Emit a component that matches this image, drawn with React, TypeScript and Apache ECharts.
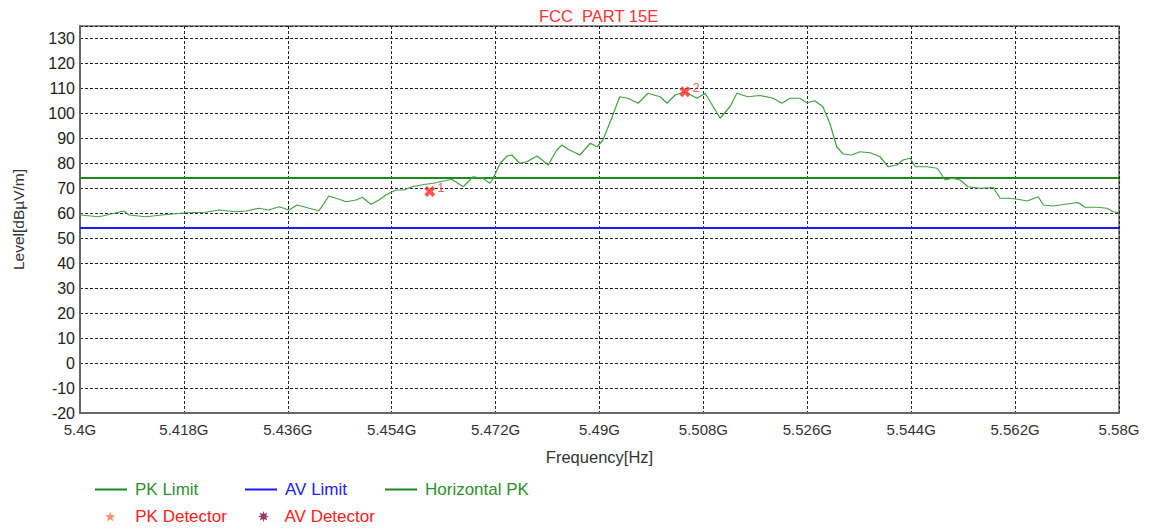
import React, { useEffect, useRef } from "react";
import * as echarts from "echarts";

// Frequency in MHz, level in dBµV/m
const traceFreq = [5400.0, 5403.3, 5407.6, 5408.5, 5411.4, 5414.2, 5418.4, 5421.8, 5424.1, 5427.0, 5428.8, 5431.0, 5432.7, 5434.5, 5436.2, 5437.6, 5439.7, 5441.4, 5442.3, 5443.1, 5444.9, 5446.1, 5447.8, 5448.9, 5450.4, 5451.8, 5453.0, 5454.7, 5456.1, 5457.5, 5459.6, 5461.2, 5464.4, 5466.4, 5468.1, 5469.8, 5471.0, 5471.5, 5472.8, 5474.0, 5474.8, 5476.2, 5477.4, 5479.2, 5481.1, 5482.6, 5483.5, 5484.5, 5486.6, 5488.4, 5489.6, 5490.6, 5492.2, 5493.5, 5494.9, 5496.7, 5498.4, 5500.5, 5501.7, 5503.1, 5504.8, 5506.9, 5508.3, 5509.7, 5510.9, 5512.6, 5513.8, 5515.7, 5517.8, 5520.1, 5521.6, 5523.0, 5524.7, 5525.9, 5527.3, 5528.7, 5529.9, 5531.1, 5532.2, 5533.7, 5535.1, 5536.9, 5538.6, 5540.0, 5541.5, 5542.6, 5543.8, 5544.7, 5546.7, 5548.5, 5549.9, 5551.1, 5552.5, 5553.8, 5555.9, 5558.2, 5559.4, 5560.8, 5562.5, 5564.1, 5566.0, 5566.9, 5568.6, 5571.0, 5572.9, 5574.1, 5576.2, 5577.9, 5579.0, 5580.0];
const traceLevel = [59.2, 58.5, 60.8, 59.2, 58.5, 59.2, 60.1, 60.3, 61.2, 60.5, 60.8, 61.9, 61.2, 62.5, 61.2, 63.2, 61.9, 60.9, 63.9, 66.8, 65.5, 64.5, 65.2, 66.3, 63.5, 65.2, 67.2, 69.2, 69.2, 70.5, 71.4, 71.9, 73.5, 70.5, 74.5, 73.9, 71.9, 73.5, 79.9, 82.8, 83.2, 79.9, 80.5, 82.8, 79.2, 85.2, 87.2, 85.6, 83.2, 87.9, 86.5, 89.2, 98.5, 106.5, 105.9, 103.9, 107.9, 106.5, 103.9, 107.2, 108.5, 105.9, 107.9, 102.5, 97.9, 102.5, 107.9, 106.5, 107.0, 105.9, 103.9, 105.9, 105.9, 104.1, 104.9, 102.5, 95.9, 86.5, 83.6, 83.2, 84.5, 84.1, 82.5, 78.5, 79.2, 81.2, 81.9, 78.5, 78.5, 77.9, 73.2, 73.9, 73.2, 70.5, 69.9, 70.2, 65.9, 65.9, 65.5, 64.8, 66.5, 63.2, 62.8, 63.6, 64.2, 62.3, 62.3, 61.9, 60.5, 60.1];

const limitFreq = [5400, 5580];
const pkLimit = [74, 74];
const avLimit = [54, 54];

const markerNames = ["1", "2"];
const markerFreq = [5460.6, 5504.8];
const markerLevel = [68.6, 108.5];

const xMin = 5400;
const xMax = 5580;
const xStep = 18;
const yMin = -20;
const yMax = 134.8;
const yStep = 10;

const FONT = "'Liberation Sans', Arial, sans-serif";

const CROSS = "path://M2.5,0 L5,2.5 L7.5,0 L10,2.5 L7.5,5 L10,7.5 L7.5,10 L5,7.5 L2.5,10 L0,7.5 L2.5,5 L0,2.5 Z";
const STAR = "path://M5,0 L6.2,3.6 L10,3.6 L7,5.9 L8.1,9.5 L5,7.3 L1.9,9.5 L3,5.9 L0,3.6 L3.8,3.6 Z";
const BURST = "path://M5,0 L5.96,2.69 L8.54,1.46 L7.31,4.04 L10,5 L7.31,5.96 L8.54,8.54 L5.96,7.31 L5,10 L4.04,7.31 L1.46,8.54 L2.69,5.96 L0,5 L2.69,4.04 L1.46,1.46 L4.04,2.69 Z";
const LINE_ICON = "path://M0,0 L32,0 L32,2 L0,2 Z";

export default function App() {
  const ref = useRef<HTMLDivElement>(null);
  useEffect(() => {
    if (!ref.current) return;
    const chart = echarts.init(ref.current, undefined, { renderer: "svg" });
    const legendText = { fontSize: 17, fontFamily: FONT, padding: [0, 0, 0, 3] };
    const legendBase = {
      orient: "horizontal",
      itemWidth: 32,
      itemHeight: 14,
      padding: 0,
    };
    chart.setOption({
      animation: false,
      backgroundColor: "#ffffff",
      title: {
        text: "FCC  PART 15E",
        left: 539,
        top: 7,
        padding: 0,
        textStyle: { color: "#ff3333", fontSize: 16.5, fontWeight: "normal", fontFamily: FONT },
      },
      grid: {
        left: 80,
        right: 32,
        top: 26,
        bottom: 116,
        show: true,
        borderColor: "#666",
        borderWidth: 1.5,
        backgroundColor: "#fff",
      },
      legend: [
        { ...legendBase, left: 95, top: 481, data: [{ name: "PK Limit", icon: LINE_ICON }], textStyle: { ...legendText, color: "#2f8f2f" } },
        { ...legendBase, left: 245, top: 481, data: [{ name: "AV Limit", icon: LINE_ICON }], textStyle: { ...legendText, color: "#2020ff" } },
        { ...legendBase, left: 385, top: 481, data: [{ name: "Horizontal PK", icon: LINE_ICON }], textStyle: { ...legendText, color: "#2f8f2f" } },
        { ...legendBase, left: 105, top: 508, itemWidth: 30, itemHeight: 10, data: [{ name: "PK Detector", icon: STAR }], textStyle: { ...legendText, padding: [0, 0, 0, 5], color: "#ff2020" } },
        { ...legendBase, left: 258, top: 508, itemWidth: 30, itemHeight: 11, data: [{ name: "AV Detector", icon: BURST }], textStyle: { ...legendText, padding: [0, 0, 0, 1], color: "#ff2020" } },
      ],
      xAxis: {
        type: "value",
        min: xMin,
        max: xMax,
        interval: xStep,
        name: "Frequency[Hz]",
        nameLocation: "middle",
        nameGap: 35,
        nameTextStyle: { fontSize: 16.5, color: "#333", fontFamily: FONT },
        axisLine: { show: true, onZero: false, lineStyle: { color: "#666", width: 2 } },
        axisTick: { show: false },
        axisLabel: {
          fontSize: 15,
          color: "#333",
          fontFamily: FONT,
          margin: 9,
          formatter: (v: number) => +(v / 1000).toFixed(3) + "G",
        },
        splitLine: { show: true, lineStyle: { color: "#222", type: [3, 2], width: 1 } },
      },
      yAxis: {
        type: "value",
        min: yMin,
        max: yMax,
        interval: yStep,
        name: "Level[dBµV/m]",
        nameLocation: "middle",
        nameGap: 54,
        nameTextStyle: { fontSize: 15.5, color: "#333", fontFamily: FONT },
        axisLine: { show: true, onZero: false, lineStyle: { color: "#666", width: 2 } },
        axisTick: { show: false },
        axisLabel: {
          fontSize: 16,
          color: "#222",
          fontFamily: FONT,
          margin: 5,
          formatter: (v: number) => (v > 130 ? "" : String(v)),
        },
        splitLine: { show: true, lineStyle: { color: "#222", type: [3, 2], width: 1 } },
      },
      series: [
        {
          name: "PK Limit",
          type: "line",
          symbol: "none",
          data: limitFreq.map((f, i) => [f, pkLimit[i]]),
          lineStyle: { color: "#1a8a1a", width: 2 },
          itemStyle: { color: "#1a8a1a" },
          z: 3,
        },
        {
          name: "AV Limit",
          type: "line",
          symbol: "none",
          data: limitFreq.map((f, i) => [f, avLimit[i]]),
          lineStyle: { color: "#1a1aff", width: 2 },
          itemStyle: { color: "#1a1aff" },
          z: 3,
        },
        {
          name: "Horizontal PK",
          type: "line",
          symbol: "none",
          data: traceFreq.map((f, i) => [f, traceLevel[i]]),
          lineStyle: { color: "#44a044", width: 1.2 },
          itemStyle: { color: "#1a8a1a" },
          z: 4,
        },
        {
          name: "PK Detector",
          type: "scatter",
          symbol: STAR,
          data: [],
          itemStyle: { color: "#ff7040" },
        },
        {
          name: "AV Detector",
          type: "scatter",
          symbol: BURST,
          data: [],
          itemStyle: { color: "#7a0a3a" },
        },
        {
          name: "Markers",
          type: "scatter",
          symbol: CROSS,
          symbolSize: 11,
          z: 6,
          data: markerFreq.map((f, i) => ({ value: [f, markerLevel[i]], name: markerNames[i] })),
          itemStyle: { color: "#ff2a2a" },
          label: {
            show: true,
            position: "right",
            distance: 2,
            offset: [0, -4],
            color: "#ff3333",
            fontSize: 13,
            fontFamily: FONT,
            formatter: (p: any) => p.name,
          },
        },
      ],
    });
    return () => chart.dispose();
  }, []);
  return (
    <div
      ref={ref}
      style={{ position: "fixed", left: 0, top: 0, width: 1151, height: 529, background: "#fff" }}
    />
  );
}
